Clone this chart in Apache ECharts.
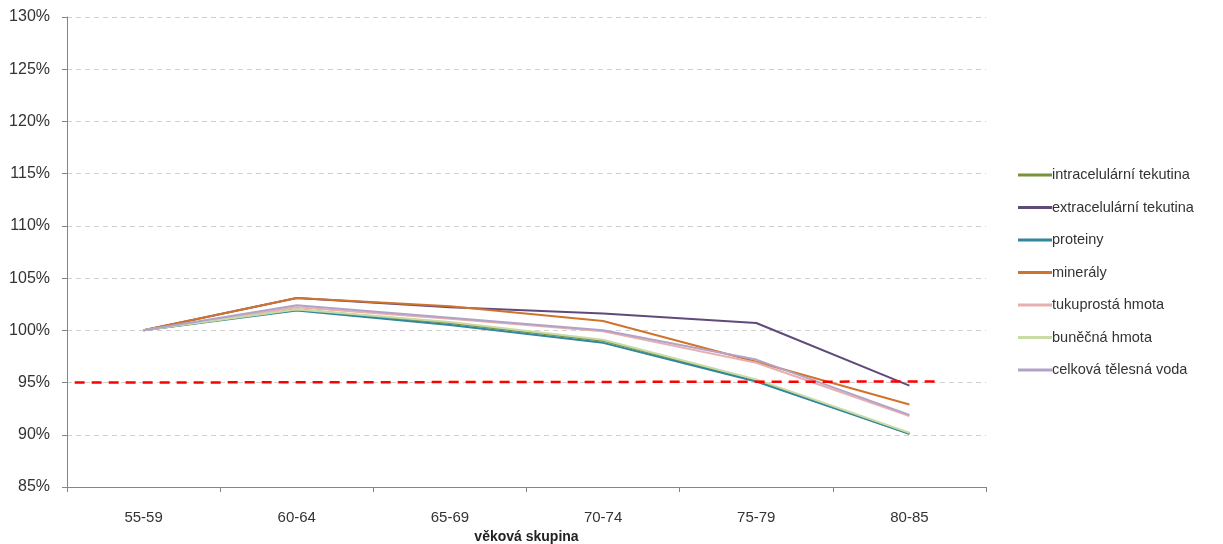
<!DOCTYPE html>
<html><head><meta charset="utf-8">
<script src="https://cdn.jsdelivr.net/npm/echarts@6/dist/echarts.min.js"></script>
<style>html,body{margin:0;padding:0;background:#fff}#c{width:1223px;height:544px}</style>
</head><body><div id="c"></div>
<script>
const categories = ['55-59','60-64','65-69','70-74','75-79','80-85'];
const yTicks = [85,90,95,100,105,110,115,120,125,130];
const intracelularni = [100, 102.0, 100.7, 99.0, 95.2, 90.1];
const extracelularni = [100, 103.1, 102.2, 101.6, 100.7, 94.7];
const proteiny = [100, 101.9, 100.5, 98.8, 95.1, 90.1];
const mineraly = [100, 103.1, 102.3, 100.9, 97.0, 92.9];
const tukuprosta = [100, 102.2, 101.1, 99.9, 96.9, 91.8];
const bunecna = [100, 102.0, 100.8, 99.1, 95.3, 90.2];
const celkovaVoda = [100, 102.4, 101.2, 100.0, 97.2, 91.9];
// reference line (x in category-width units from left edge of plot)
const refLineX = [0.05, 5.69];
const refLineY = [95.0, 95.1];

const names = ['intracelulární tekutina','extracelulární tekutina','proteiny','minerály','tukuprostá hmota','buněčná hmota','celková tělesná voda'];
const data = [intracelularni, extracelularni, proteiny, mineraly, tukuprosta, bunecna, celkovaVoda];
const colors = ['#77933C','#604A7B','#31859C','#D0732C','#E6B0AE','#C9DBA5','#B3A2C7'];
const widths = [2,2,2,2,2,2,2];

const font = 'Liberation Sans, Arial, sans-serif';
const series = names.map((n,i)=>({
  name:n, type:'line', data:data[i], symbol:'none', xAxisIndex:0, yAxisIndex:0,
  lineStyle:{color:colors[i], width:widths[i]}, itemStyle:{color:colors[i]}, z:2+i
}));
series.push({
  name:'ref', type:'line', xAxisIndex:1, yAxisIndex:0, symbol:'none',
  data: refLineX.map((x,i)=>[x, refLineY[i]]),
  lineStyle:{color:'#FF0000', width:2.5, type:[10,7]}, z:20
});

const chart = echarts.init(document.getElementById('c'));
chart.setOption({
  animation:false,
  grid:{left:67, right:237, top:17, bottom:57, outerBoundsMode:'none', containLabel:false},
  legend:{
    data: names.map((n,i)=>({name:n, icon:'rect', itemStyle:{color:colors[i]}})),
    orient:'vertical', left:1013, top:161, itemWidth:34, itemHeight:3, itemGap:14.5,
    textStyle:{fontFamily:font, fontSize:14.5, color:'#333', padding:[0,0,0,-5], lineHeight:18}
  },
  xAxis:[{
    type:'category', data:categories, boundaryGap:true,
    axisLine:{lineStyle:{color:'#868686'}},
    axisTick:{show:true, length:5, lineStyle:{color:'#868686'}},
    axisLabel:{fontFamily:font, fontSize:15, color:'#333', margin:23},
    name:'věková skupina', nameLocation:'middle', nameGap:43,
    nameTextStyle:{fontFamily:font, fontSize:14, fontWeight:'bold', color:'#222'}
  },{
    type:'value', min:0, max:6, show:false
  }],
  yAxis:{
    type:'value', min:85, max:130, interval:5,
    axisLine:{show:true, lineStyle:{color:'#868686'}},
    axisTick:{show:true, length:5, lineStyle:{color:'#868686'}},
    axisLabel:{fontFamily:font, fontSize:16, color:'#333', margin:17, formatter:v=>v+'%'},
    splitLine:{lineStyle:{color:'#D0D0D0', type:[5,4]}}
  },
  series
});
</script></body></html>
